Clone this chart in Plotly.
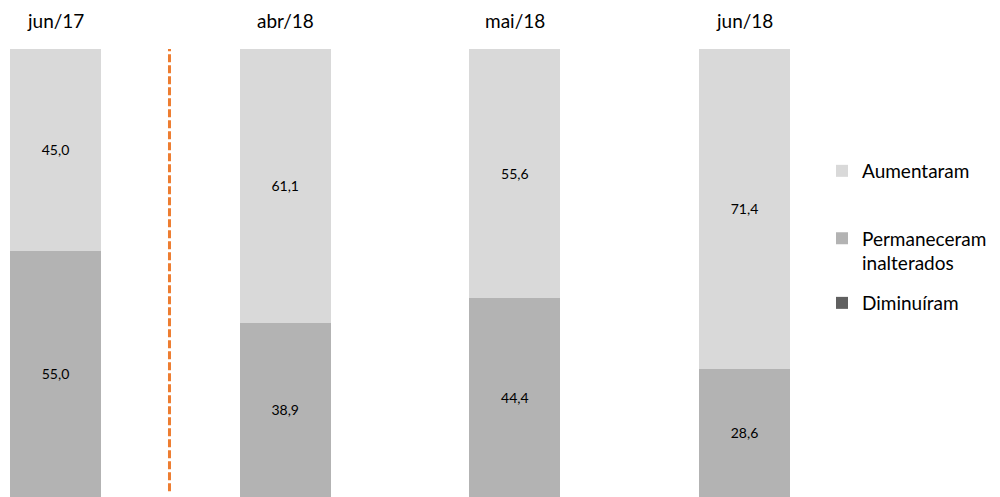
import plotly.graph_objects as go

# Survey periods and share of answers (%)
categories = ["jun/17", "abr/18", "mai/18", "jun/18"]
diminuiram = [0.0, 0.0, 0.0, 0.0]
permaneceram = [55.0, 38.9, 44.4, 28.6]
aumentaram = [45.0, 61.1, 55.6, 71.4]

series_names = ["Diminuíram", "Permaneceram<br>inalterados", "Aumentaram"]
series_colors = ["#606060", "#b3b3b3", "#d9d9d9"]

FONT = "Lato, 'Open Sans', sans-serif"
xpos = list(range(len(categories)))

fig = go.Figure()

for vals, name, color, leg in zip(
    [diminuiram, permaneceram, aumentaram], series_names, series_colors,
    ["legend3", "legend2", "legend"],
):
    fig.add_trace(go.Bar(
        x=xpos, y=vals, name=name, legend=leg,
        marker=dict(color=color, line=dict(width=0)),
        width=0.396,
        text=[f"{v:.1f}".replace(".", ",") if v > 0 else "" for v in vals],
        textposition="inside", insidetextanchor="middle",
        textfont=dict(family=FONT, size=14, color="#000000"),
        hoverinfo="skip",
    ))

# Period labels above the bars
for xi, cat in zip(xpos, categories):
    fig.add_annotation(x=xi, y=1, xref="x", yref="paper", text=cat,
                       showarrow=False, yanchor="middle", yshift=29,
                       font=dict(family=FONT, size=19, color="#000000"))

# Dashed separator between the first period and the 2018 periods
fig.add_shape(type="line", xref="x", yref="y", x0=0.4963, x1=0.4963, y0=1.3, y1=100.9,
              line=dict(color="#ED7D31", width=3, dash="8px,3px"))

legend_common = dict(
    xanchor="left", yanchor="middle", font=dict(family=FONT, size=19, color="#000000"),
    bgcolor="rgba(0,0,0,0)", valign="top", itemclick=False, itemdoubleclick=False,
)

fig.update_layout(
    width=1000, height=497,
    margin=dict(l=0, r=200, t=49, b=0),
    barmode="stack",
    plot_bgcolor="#ffffff", paper_bgcolor="#ffffff",
    xaxis=dict(range=[-0.2417, 3.2416], visible=False, fixedrange=True),
    yaxis=dict(range=[0, 100], visible=False, fixedrange=True),
    legend=dict(x=1.0275, y=0.7277, **legend_common),
    legend2=dict(x=1.0275, y=0.5491, **legend_common),
    legend3=dict(x=1.0275, y=0.433, **legend_common),
    showlegend=True,
)

fig.write_html("out.html")
